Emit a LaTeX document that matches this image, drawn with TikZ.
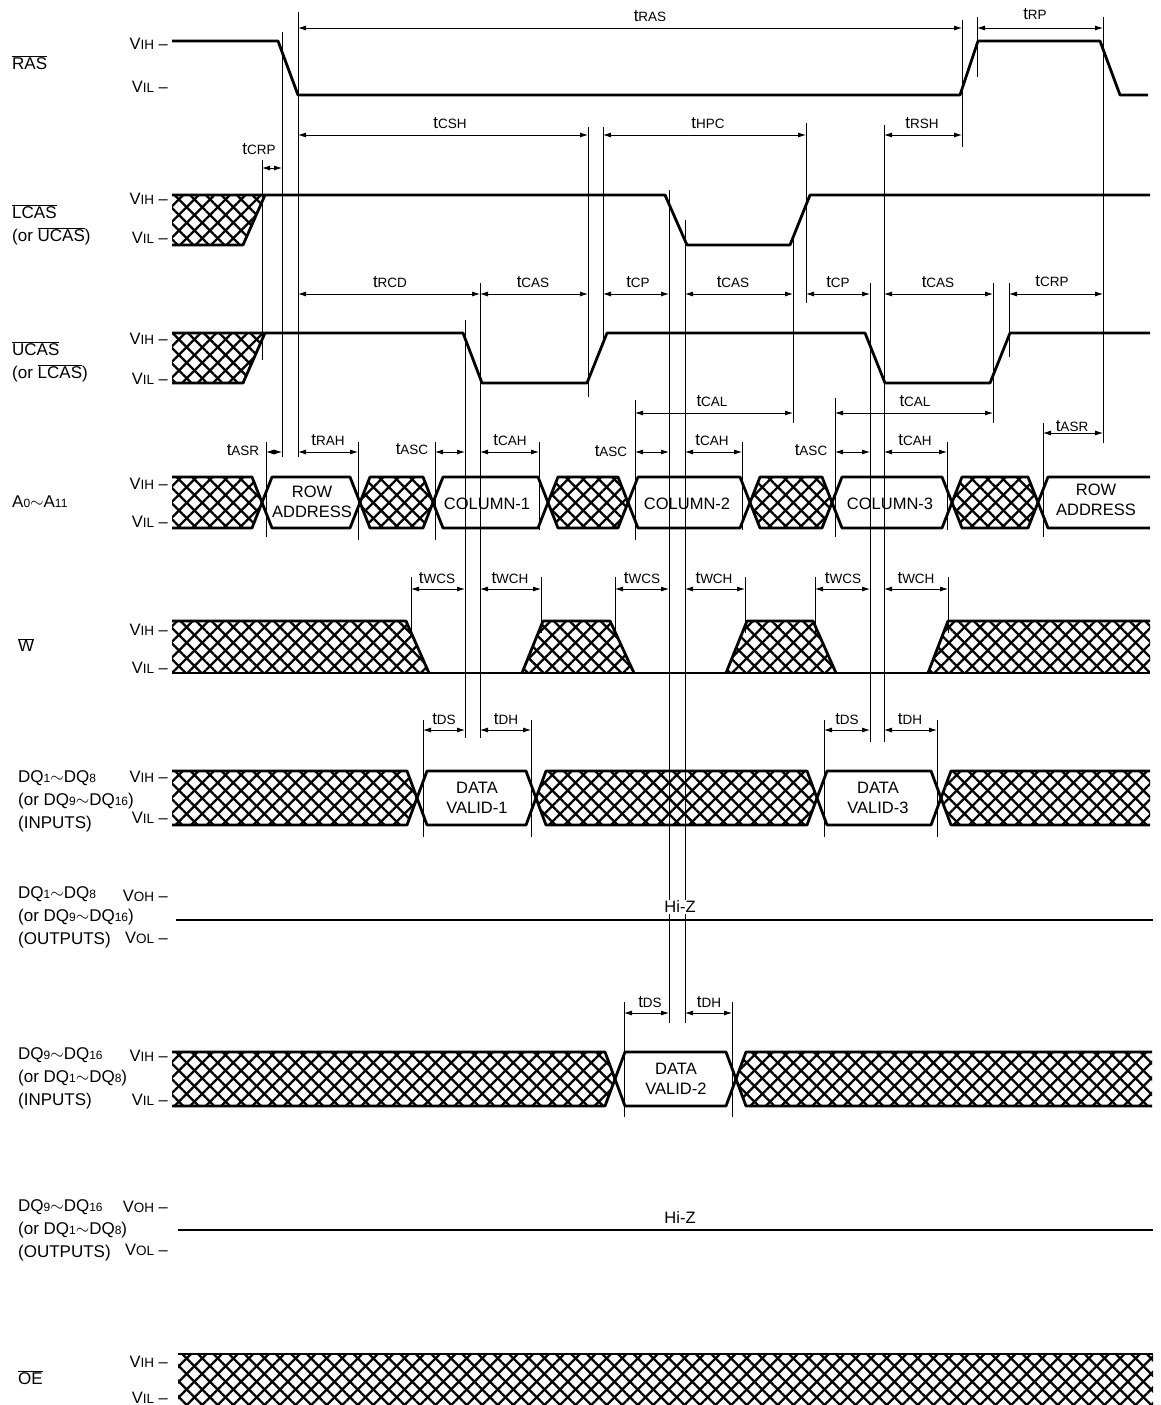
\documentclass[tikz,border=0pt]{standalone}
\usepackage{fontspec}
\setmainfont{Liberation Sans}
\usetikzlibrary{arrows.meta,patterns.meta}

\newcommand{\tsym}[1]{t{\fontsize{13.5}{15}\selectfont #1}}
\newcommand{\vsym}[1]{V{\fontsize{13.5}{15}\selectfont #1}}
\newcommand{\dsub}[1]{{\fontsize{12}{13}\selectfont #1}}
\newcommand{\ovl}[1]{$\overline{\mbox{#1}}$}
% one bus cell between two crossings: style, x left, x right, top, bottom
\newcommand{\cell}[5]{\draw[sig,#1] (#2,{(#4+#5)/2}) -- ({#2+10},#4) -- ({#3-10},#4) -- (#3,{(#4+#5)/2}) -- ({#3-10},#5) -- ({#2+10},#5) -- cycle;}

\begin{document}
\begin{tikzpicture}[
    x=1pt, y=-1pt,
    font=\fontsize{16.5}{20}\selectfont,
    sig/.style={line width=2.8pt, line join=round},
    extl/.style={line width=0.8pt},
    dim/.style={line width=0.8pt, {Latex[length=8pt,width=5pt]}-{Latex[length=8pt,width=5pt]}},
    hatch/.style={
        preaction={pattern={Lines[angle=45,distance=11pt,line width=2.3pt]}},
        pattern={Lines[angle=-45,distance=11pt,line width=2.3pt]}
    },
    lev/.style={anchor=east, inner sep=0pt},
    sname/.style={anchor=west, align=left, inner sep=0pt, font=\fontsize{17}{23}\selectfont},
    tl/.style={inner sep=0pt, font=\fontsize{17}{20}\selectfont}
]
\useasboundingbox (0,0) rectangle (1161,1405);

% signal names
\node [sname] (nRAS) at (12,63) {\ovl{RAS}};
\node [sname] (nLCAS) at (12,225) {\ovl{LCAS}\\(or \ovl{UCAS})};
\node [sname] (nUCAS) at (12,362) {\ovl{UCAS}\\(or \ovl{LCAS})};
\node [sname] (nADR) at (12,502) {A\dsub{0}$\sim$A\dsub{11}};
\node [sname] (nW) at (18,645) {\ovl{W}};
\node [sname] (nDQa) at (18,801) {DQ\dsub{1}$\sim$DQ\dsub{8}\\(or DQ\dsub{9}$\sim$DQ\dsub{16})\\(INPUTS)};
\node [sname] (nDQb) at (18,917) {DQ\dsub{1}$\sim$DQ\dsub{8}\\(or DQ\dsub{9}$\sim$DQ\dsub{16})\\(OUTPUTS)};
\node [sname] (nDQc) at (18,1078) {DQ\dsub{9}$\sim$DQ\dsub{16}\\(or DQ\dsub{1}$\sim$DQ\dsub{8})\\(INPUTS)};
\node [sname] (nDQd) at (18,1230) {DQ\dsub{9}$\sim$DQ\dsub{16}\\(or DQ\dsub{1}$\sim$DQ\dsub{8})\\(OUTPUTS)};
\node [sname] (nOE) at (18,1378) {\ovl{OE}};

% levels
\node [lev] (h1) at (168,44) {\vsym{IH} --};
\node [lev] (l1) at (168,87) {\vsym{IL} --};
\node [lev] (h2) at (168,199) {\vsym{IH} --};
\node [lev] (l2) at (168,238) {\vsym{IL} --};
\node [lev] (h3) at (168,339) {\vsym{IH} --};
\node [lev] (l3) at (168,379) {\vsym{IL} --};
\node [lev] (h4) at (168,484) {\vsym{IH} --};
\node [lev] (l4) at (168,522) {\vsym{IL} --};
\node [lev] (h5) at (168,630) {\vsym{IH} --};
\node [lev] (l5) at (168,668) {\vsym{IL} --};
\node [lev] (h6) at (168,777) {\vsym{IH} --};
\node [lev] (l6) at (168,818) {\vsym{IL} --};
\node [lev] (h7) at (168,896) {\vsym{OH} --};
\node [lev] (l7) at (168,938) {\vsym{OL} --};
\node [lev] (h8) at (168,1056) {\vsym{IH} --};
\node [lev] (l8) at (168,1100) {\vsym{IL} --};
\node [lev] (h9) at (168,1207) {\vsym{OH} --};
\node [lev] (l9) at (168,1250) {\vsym{OL} --};
\node [lev] (h10) at (168,1362) {\vsym{IH} --};
\node [lev] (l10) at (168,1398) {\vsym{IL} --};

% extension lines
\draw [extl] (298,12) -- (298,457) (282,32) -- (282,457) (262,160) -- (262,360)
    (266,442) -- (266,537) (358,442) -- (358,540) (435,442) -- (435,540)
    (465,320) -- (465,738) (480,283) -- (480,738) (539,442) -- (539,530)
    (588,127) -- (588,397) (603,127) -- (603,345) (635,400) -- (635,540)
    (669,190) -- (669,1023) (685,220) -- (685,1023) (742,442) -- (742,530)
    (793,233) -- (793,423) (806,123) -- (806,303) (835,398) -- (835,537)
    (870,283) -- (870,742) (884,125) -- (884,742) (947,442) -- (947,530)
    (962,20) -- (962,147) (977,17) -- (977,77) (993,283) -- (993,423)
    (1009,283) -- (1009,357) (1043,423) -- (1043,537) (1103,17) -- (1103,443)
    (411,577) -- (411,633) (541,577) -- (541,633) (615,577) -- (615,633)
    (745,577) -- (745,633) (815,577) -- (815,633) (948,577) -- (948,633)
    (423,720) -- (423,837) (531,720) -- (531,837) (824,720) -- (824,837)
    (937,720) -- (937,837) (624,1002) -- (624,1117) (732,1002) -- (732,1117);

% RAS
\draw [sig] (172,41) -- (278,41) -- (298,95) -- (960,95) -- (978,41) -- (1100,41) -- (1120,95) -- (1148,95);

% LCAS
\path [hatch] (172,195) -- (265,195) -- (243,245) -- (172,245) -- cycle;
\draw [sig] (172,245) -- (243,245) -- (265,195);
\draw [sig] (172,195) -- (665,195) -- (687,245) -- (790,245) -- (810,195) -- (1150,195);

% UCAS
\path [hatch] (172,333) -- (265,333) -- (243,383) -- (172,383) -- cycle;
\draw [sig] (172,383) -- (243,383) -- (265,333);
\draw [sig] (172,333) -- (463,333) -- (482,383) -- (587,383) -- (607,333) -- (865,333) -- (885,383) -- (990,383) -- (1010,333) -- (1150,333);

% address bus
\path [hatch] (172,477) -- (252,477) -- (262,502.5) -- (252,528) -- (172,528) -- cycle;
\draw [sig] (172,477) -- (252,477) -- (262,502.5) -- (252,528) -- (172,528);
\cell{}{262}{360}{477}{528}
\cell{hatch}{360}{433}{477}{528}
\cell{}{433}{548}{477}{528}
\cell{hatch}{548}{628}{477}{528}
\cell{}{628}{750}{477}{528}
\cell{hatch}{750}{832}{477}{528}
\cell{}{832}{952}{477}{528}
\cell{hatch}{952}{1038}{477}{528}
\draw [sig] (1150,477) -- (1048,477) -- (1038,502.5) -- (1048,528) -- (1150,528);
\node [align=center] (row1) at (312,502) {ROW\\ADDRESS};
\node (col1) at (487,504) {COLUMN-1};
\node (col2) at (687,504) {COLUMN-2};
\node (col3) at (890,504) {COLUMN-3};
\node [align=center] (row2) at (1096,500) {ROW\\ADDRESS};

% W
\path [hatch] (172,621) -- (406,621) -- (429,673) -- (172,673) -- cycle;
\draw [sig] (172,621) -- (406,621) -- (429,673);
\draw [sig,hatch] (522,673) -- (543,621) -- (610,621) -- (634,673);
\draw [sig,hatch] (726,673) -- (747,621) -- (813,621) -- (836,673);
\path [hatch] (928,673) -- (948,621) -- (1150,621) -- (1150,673) -- cycle;
\draw [sig] (928,673) -- (948,621) -- (1150,621);
\draw [sig] (172,673) -- (1150,673);

% DQ1-DQ8 inputs
\path [hatch] (172,771) -- (407,771) -- (417,798) -- (407,825) -- (172,825) -- cycle;
\draw [sig] (172,771) -- (407,771) -- (417,798) -- (407,825) -- (172,825);
\cell{}{417}{536}{771}{825}
\cell{hatch}{536}{817}{771}{825}
\cell{}{817}{941}{771}{825}
\path [hatch] (941,798) -- (951,771) -- (1150,771) -- (1150,825) -- (951,825) -- cycle;
\draw [sig] (1150,771) -- (951,771) -- (941,798) -- (951,825) -- (1150,825);
\node [align=center] (dv1) at (477,798) {DATA\\VALID-1};
\node [align=center] (dv3) at (878,798) {DATA\\VALID-3};

% DQ1-DQ8 outputs
\draw [sig,line width=2pt] (176,920) -- (1153,920);
\node [fill=white, inner sep=1pt] (hiz1) at (680,907) {Hi-Z};

% DQ9-DQ16 inputs
\path [hatch] (172,1052) -- (605,1052) -- (615,1079) -- (605,1106) -- (172,1106) -- cycle;
\draw [sig] (172,1052) -- (605,1052) -- (615,1079) -- (605,1106) -- (172,1106);
\cell{}{615}{736}{1052}{1106}
\path [hatch] (736,1079) -- (746,1052) -- (1152,1052) -- (1152,1106) -- (746,1106) -- cycle;
\draw [sig] (1152,1052) -- (746,1052) -- (736,1079) -- (746,1106) -- (1152,1106);
\node [align=center] (dv2) at (676,1079) {DATA\\VALID-2};

% DQ9-DQ16 outputs
\draw [sig,line width=2pt] (178,1230) -- (1153,1230);
\node [fill=white, inner sep=1pt] (hiz2) at (680,1218) {Hi-Z};

% OE
\path [hatch] (178,1354) rectangle (1153,1405);
\draw [sig] (178,1354) -- (1153,1354);

% timing arrows
\draw [dim] (298,28) -- (962,28);
\draw [dim] (977,28) -- (1103,28);
\draw [dim] (298,135) -- (588,135);
\draw [dim] (603,135) -- (806,135);
\draw [dim] (884,135) -- (962,135);
\draw [dim] (262,168) -- (282,168);
\draw [dim] (298,294) -- (480,294);
\draw [dim] (480,294) -- (588,294);
\draw [dim] (603,294) -- (669,294);
\draw [dim] (685,294) -- (793,294);
\draw [dim] (806,294) -- (870,294);
\draw [dim] (884,294) -- (993,294);
\draw [dim] (1009,294) -- (1103,294);
\draw [dim] (635,413) -- (793,413);
\draw [dim] (835,413) -- (993,413);
\draw [dim] (266,452) -- (282,452);
\draw [dim] (298,452) -- (358,452);
\draw [dim] (435,452) -- (465,452);
\draw [dim] (480,452) -- (539,452);
\draw [dim] (635,452) -- (669,452);
\draw [dim] (685,452) -- (742,452);
\draw [dim] (835,452) -- (870,452);
\draw [dim] (884,452) -- (947,452);
\draw [dim] (1043,433) -- (1103,433);
\draw [dim] (411,589) -- (465,589);
\draw [dim] (480,589) -- (541,589);
\draw [dim] (615,589) -- (669,589);
\draw [dim] (685,589) -- (745,589);
\draw [dim] (815,589) -- (870,589);
\draw [dim] (884,589) -- (948,589);
\draw [dim] (423,730) -- (465,730);
\draw [dim] (480,730) -- (531,730);
\draw [dim] (824,730) -- (870,730);
\draw [dim] (884,730) -- (937,730);
\draw [dim] (624,1013) -- (669,1013);
\draw [dim] (685,1013) -- (732,1013);

% timing labels
\node [tl] (tRAS) at (650,16) {\tsym{RAS}};
\node [tl] (tRP) at (1035,14) {\tsym{RP}};
\node [tl] (tCSH) at (450,123) {\tsym{CSH}};
\node [tl] (tHPC) at (708,123) {\tsym{HPC}};
\node [tl] (tRSH) at (922,123) {\tsym{RSH}};
\node [tl] (tCRPa) at (259,149) {\tsym{CRP}};
\node [tl] (tRCD) at (390,282) {\tsym{RCD}};
\node [tl] (tCASa) at (533,282) {\tsym{CAS}};
\node [tl] (tCPa) at (638,282) {\tsym{CP}};
\node [tl] (tCASb) at (733,282) {\tsym{CAS}};
\node [tl] (tCPb) at (838,282) {\tsym{CP}};
\node [tl] (tCASc) at (938,282) {\tsym{CAS}};
\node [tl] (tCRPb) at (1052,281) {\tsym{CRP}};
\node [tl] (tCALa) at (712,401) {\tsym{CAL}};
\node [tl] (tCALb) at (915,401) {\tsym{CAL}};
\node [tl] (tASRa) at (243,450) {\tsym{ASR}};
\node [tl] (tRAH) at (328,440) {\tsym{RAH}};
\node [tl] (tASCa) at (412,449) {\tsym{ASC}};
\node [tl] (tCAHa) at (510,440) {\tsym{CAH}};
\node [tl] (tASCb) at (611,451) {\tsym{ASC}};
\node [tl] (tCAHb) at (712,440) {\tsym{CAH}};
\node [tl] (tASCc) at (811,450) {\tsym{ASC}};
\node [tl] (tCAHc) at (915,440) {\tsym{CAH}};
\node [tl] (tASRb) at (1072,426) {\tsym{ASR}};
\node [tl] (tWCSa) at (437,578) {\tsym{WCS}};
\node [tl] (tWCHa) at (510,578) {\tsym{WCH}};
\node [tl] (tWCSb) at (642,578) {\tsym{WCS}};
\node [tl] (tWCHb) at (714,578) {\tsym{WCH}};
\node [tl] (tWCSc) at (843,578) {\tsym{WCS}};
\node [tl] (tWCHc) at (916,578) {\tsym{WCH}};
\node [tl] (tDSa) at (444,719) {\tsym{DS}};
\node [tl] (tDHa) at (506,719) {\tsym{DH}};
\node [tl] (tDSb) at (847,719) {\tsym{DS}};
\node [tl] (tDHb) at (910,719) {\tsym{DH}};
\node [tl] (tDSc) at (650,1002) {\tsym{DS}};
\node [tl] (tDHc) at (709,1002) {\tsym{DH}};

\end{tikzpicture}
\end{document}
